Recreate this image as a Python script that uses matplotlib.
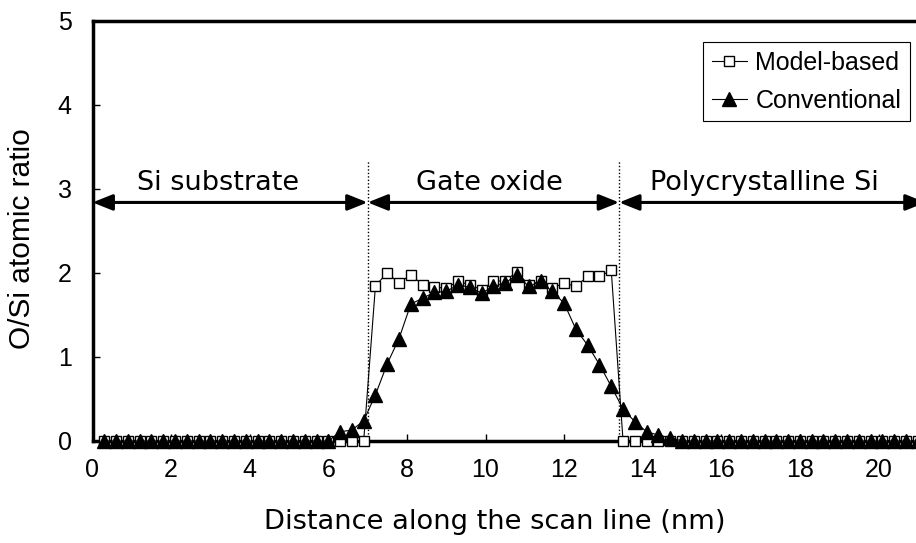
import numpy as np
import matplotlib.pyplot as plt

# scan positions (nm), one sample every 0.3 nm
distance = np.round(np.arange(1, 71) * 0.3, 1)

model_based = [0] * 23 + [
    1.85, 2.00, 1.88, 1.98, 1.86, 1.83, 1.82, 1.90, 1.86, 1.80, 1.90,
    1.91, 2.01, 1.86, 1.90, 1.82, 1.88, 1.84, 1.96, 1.96, 2.03] + [0] * 26

conventional = [0] * 20 + [
    0.11, 0.13, 0.24, 0.55, 0.92, 1.22, 1.63, 1.70, 1.77, 1.78, 1.86,
    1.83, 1.76, 1.84, 1.88, 1.98, 1.84, 1.90, 1.78, 1.64, 1.33, 1.14,
    0.91, 0.65, 0.38, 0.23, 0.11, 0.07, 0.04] + [0] * 21

regions = ['Si substrate', 'Gate oxide', 'Polycrystalline Si']
region_edges = [0, 7.0, 13.4, 21.2]
region_label_x = [3.2, 10.1, 17.1]

W, H = 916, 543
x0_px, y0_px, y5_px = 92.5, 441, 21
fig = plt.figure(figsize=(W / 100, H / 100), dpi=100)
ax = fig.add_axes([x0_px / W, (H - y0_px) / H, 1 - x0_px / W, (y0_px - y5_px) / H])

ax.plot(distance, model_based, color='black', lw=0.8, marker='s', ms=7.5,
        mfc='white', mec='black', mew=1.0, label='Model-based', clip_on=False, zorder=3)
ax.plot(distance, conventional, color='black', lw=0.8, marker='^', ms=9.5,
        mfc='black', mec='black', label='Conventional', clip_on=False, zorder=4)

# region boundaries and arrows
for xb in region_edges[1:3]:
    ax.plot([xb, xb], [0, 3.35], color='black', lw=1.0, ls=(0, (1, 1.5)), zorder=2)
for name, xa, xb, xt in zip(regions, region_edges[:-1], region_edges[1:], region_label_x):
    ax.annotate('', xy=(xa, 2.84), xytext=(xb, 2.84),
                arrowprops=dict(arrowstyle='<|-|>,head_length=0.55,head_width=0.22',
                                color='black', lw=2.2, mutation_scale=22,
                                shrinkA=0, shrinkB=0),
                annotation_clip=False)
    ax.text(xt, 3.07, name, ha='center', va='center', fontsize=19.5, family='DejaVu Sans')

ax.set_xlim(0, (W - x0_px) / 39.3)
ax.set_ylim(0, 5)
ax.set_xticks(range(0, 21, 2))
ax.set_yticks(range(0, 6))
ax.tick_params(direction='in', length=5, width=1, labelsize=18)
ax.tick_params(axis='x', pad=12)
ax.tick_params(axis='y', pad=15)
for lab in ax.get_xticklabels() + ax.get_yticklabels():
    lab.set_family('Liberation Sans')
for side in ['left', 'bottom', 'top']:
    ax.spines[side].set_linewidth(2.5)
ax.spines['right'].set_visible(False)

ax.set_xlabel('Distance along the scan line (nm)', fontsize=19.6, family='DejaVu Sans', va='baseline')
ax.xaxis.set_label_coords((495 - x0_px) / (W - x0_px), (y0_px - 529) / (y0_px - y5_px))
ax.set_ylabel('O/Si atomic ratio', fontsize=21.5, family='Liberation Sans', va='center')
ax.yaxis.set_label_coords((22 - x0_px) / (W - x0_px), 0.483)

leg = ax.legend(loc='upper right', bbox_to_anchor=(910 / W, 1 - 42 / H),
                bbox_transform=fig.transFigure, borderaxespad=0, fancybox=False,
                framealpha=1, edgecolor='black', handlelength=1.4, handletextpad=0.35,
                borderpad=0.35, labelspacing=0.55, prop={'family': 'Liberation Sans', 'size': 18})
leg.get_frame().set_linewidth(0.8)

fig.savefig('out.png', dpi=100)
